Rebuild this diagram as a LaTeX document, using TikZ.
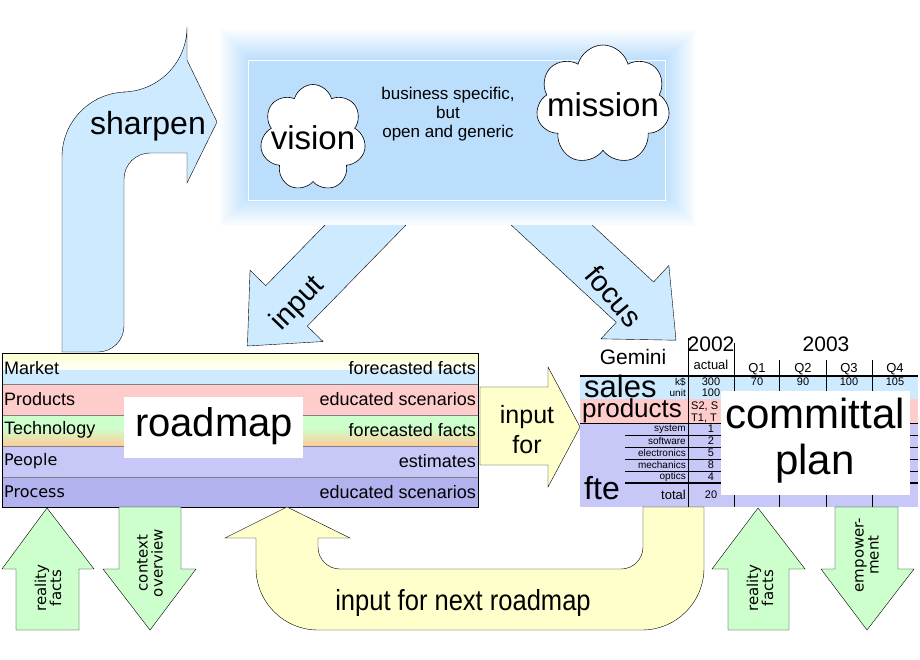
\documentclass[tikz,border=0pt]{standalone}
\usepackage{fontspec}
\setmainfont{Liberation Sans}
\newfontfamily\dejavu{DejaVu Sans}
\usetikzlibrary{shapes.symbols,calc}

\definecolor{skyblue}{RGB}{205,234,255}
\definecolor{boxblue}{RGB}{187,222,252}
\definecolor{mintgreen}{RGB}{204,255,204}
\definecolor{paleyellow}{RGB}{255,255,204}
\definecolor{rosepink}{RGB}{255,204,204}
\definecolor{lavender}{RGB}{200,200,248}
\definecolor{deeplav}{RGB}{178,178,238}
\definecolor{peach}{RGB}{255,204,153}

\newcommand{\fs}[1]{\fontsize{#1}{#1}\selectfont}
% straight block arrow: start, angle, length, shaft width, head width, head length, fill
\newcommand{\blockarrow}[7]{%
  \begin{scope}[shift={#1},rotate=#2]
    \draw[fill=#7,line width=0.4pt]
      (0,-#4/2) -- ({#3-#6},-#4/2) -- ({#3-#6},-#5/2) -- (#3,0)
      -- ({#3-#6},#5/2) -- ({#3-#6},#4/2) -- (0,#4/2) -- cycle;
  \end{scope}}

\tikzset{
  cloudy/.style={cloud,cloud puffs=7,draw,fill=white,line width=0.6pt,aspect=1},
  rowtxt/.style={font=\fs{18},inner sep=2pt},
  cell/.style={font=\fs{11},inner sep=0pt},
  sub/.style={font=\fs{10},inner sep=0pt,anchor=east},
  vlabel/.style={font=\dejavu\fs{15},rotate=90,align=center},
}

\begin{document}
\begin{tikzpicture}[x=1pt,y=-1pt]
\useasboundingbox (0,0) rectangle (920,660);

% input and focus arrows (their tails hide under the box)
\blockarrow{(385,205)}{225.7}{197}{58}{102}{56}{skyblue}
\node[font=\fs{29},rotate=46] (input) at (298,304) {input};
\blockarrow{(530,205)}{-42.8}{199}{55}{100}{56}{skyblue}
\node[font=\fs{29},rotate=-50] (focus) at (614,296) {focus};

% mission box with glow
\fill[white] (220,30) rectangle (695,225);
\foreach \g in {0,2,...,28}{
  \pgfmathsetmacro{\o}{10+3*\g}
  \fill[boxblue!\o] (220+\g,30+\g) rectangle (695-\g,225-\g);
}
\draw[white,fill=boxblue] (248,60) rectangle (665,200);
\node[cloudy,minimum width=106,minimum height=107] (vision) at (313,138) {};
\node[font=\fs{33}] at (vision) {vision};
\node[cloudy,minimum width=134,minimum height=120] (mission) at (603,105) {};
\node[font=\fs{33}] at (mission) {mission};
\node[font=\fs{17},align=center] (generic) at (448,114)
  {business specific,\\[2pt] but\\[2pt] open and generic};

% sharpen arrow
\draw[fill=skyblue,line width=0.4pt] (62,352) [rounded corners=65] -- (62,92) -- (187,92)
  [sharp corners] -- (187,60) -- (217,122) -- (187,183) -- (187,153)
  [rounded corners=26] -- (124,153) -- (124,352) [sharp corners] -- cycle;
\node[font=\fs{32}] (sharpen) at (148,126) {sharpen};

% roadmap
\shade[top color=paleyellow,bottom color=white] (2,353) rectangle (478,370);
\fill[skyblue] (2,370) rectangle (478,384);
\fill[rosepink] (2,384) rectangle (478,415);
\fill[mintgreen] (2,415) rectangle (478,436);
\shade[top color=mintgreen,bottom color=peach] (2,428) rectangle (478,446);
\fill[lavender] (2,446) rectangle (478,477);
\fill[deeplav] (2,477) rectangle (478,507);
\foreach \y in {384,415,446,477}{ \draw[gray,line width=0.8pt] (2,\y) -- (478,\y); }
\draw[line width=0.8pt] (2,353) rectangle (478,507);
\foreach \y/\l/\r in {368/Market/forecasted facts,399/Products/educated scenarios,430/Technology/forecasted facts}{
  \node[rowtxt,anchor=west] at (2,\y) {\l};
  \node[rowtxt,anchor=east] at (478,\y) {\r};
}
\foreach \y/\l/\r in {461/People/estimates,492/Process/educated scenarios}{
  \node[rowtxt,anchor=west,font=\dejavu\fs{16}] at (2,\y) {\l};
  \node[rowtxt,anchor=east] at (478,\y) {\r};
}
\fill[white] (124,397) rectangle (303,458);
\node[font=\fs{40}] (roadmap) at (214,426) {roadmap};

% input for arrow
\draw[fill=paleyellow,line width=0.4pt] (480,387) -- (548,387) -- (548,367) -- (580,427)
  -- (548,487) -- (548,465) -- (480,465) -- cycle;
\node[font=\fs{25},align=center] (inputfor) at (527,430) {input\\[5pt] for};

% committal plan table
\fill[skyblue] (580,376) rectangle (918,399);
\fill[rosepink] (580,399) rectangle (918,423);
\fill[lavender] (580,423) rectangle (918,507);
\node[font=\fs{21}] (gemini) at (633,357) {Gemini};
\node[font=\fs{21}] at (711,344) {2002};
\node[font=\fs{13}] at (711,365) {actual};
\node[font=\fs{21}] at (826,344) {2003};
\foreach \x/\q in {757/Q1,803/Q2,849/Q3,895/Q4}{ \node[font=\fs{13}] at (\x,369) {\q}; }
\draw[line width=2pt] (580,376) -- (918,376);
\draw[line width=0.8pt] (688,338) -- (688,507);
\draw[line width=0.8pt] (734,343) -- (734,507);
\foreach \x in {779,826,872}{ \draw[line width=0.8pt] (\x,360) -- (\x,507); }
\foreach \y in {435,447,459,471}{ \draw[line width=0.6pt] (625,\y) -- (918,\y); }
\draw[line width=0.6pt] (580,423) -- (918,423);
\draw[line width=2pt] (625,483) -- (918,483);
\node[font=\fs{31},anchor=west,inner sep=0pt] (sales) at (584,386) {sales};
\node[font=\fs{26},anchor=west,inner sep=0pt] (products) at (582,411) {products};
\node[font=\fs{32},anchor=west,inner sep=0pt] (fte) at (584,488) {fte};
\node[sub] at (686,382) {k\$};
\node[sub] at (686,393) {unit};
\foreach \y/\s/\v in {429/system/1,441/software/2,453/electronics/5,465/mechanics/8,477/optics/4}{
  \node[sub] at (686,\y) {\s};
  \node[cell] at (711,\y) {\v};
}
\node[font=\fs{13},anchor=east,inner sep=0pt] at (686,495) {total};
\node[cell] at (711,495) {20};
\node[cell] at (711,382) {300};
\node[cell] at (711,393) {100};
\node[cell,anchor=west] at (691,406) {S2, S};
\node[cell,anchor=west] at (691,418) {T1, T};
\foreach \x/\v in {757/70,803/90,849/100,895/105}{ \node[cell] at (\x,382) {\v}; }
\fill[white] (721,391) rectangle (910,495);
\node[font=\fs{42},align=center] (committal) at (815,441) {committal\\[4pt] plan};

% bottom arrows
\tikzset{updown/.style={fill=mintgreen,line width=0.4pt}}
\draw[updown] (16,630) -- (16,569) -- (2,569) -- (47,508) -- (94,569) -- (79,569) -- (79,630) -- cycle;
\node[vlabel] (reality1) at (48,588) {reality\\facts};
\draw[updown] (119,507) -- (119,569) -- (103,569) -- (150,630) -- (196,569) -- (181,569) -- (181,507) -- cycle;
\node[vlabel] (context) at (150,563) {context\\overview};
\draw[updown] (728,630) -- (728,569) -- (712,569) -- (758,508) -- (805,569) -- (789,569) -- (789,630) -- cycle;
\node[vlabel] (reality2) at (760,588) {reality\\facts};
\draw[updown] (835,507) -- (835,569) -- (821,569) -- (867,630) -- (914,569) -- (898,569) -- (898,507) -- cycle;
\node[vlabel] (empower) at (867,555) {empower-\\ment};

% input for next roadmap
\draw[fill=paleyellow,line width=0.4pt] (225,538) -- (287,507) -- (350,538) -- (318,538)
  [rounded corners=22] -- (318,569) -- (643,569) [sharp corners] -- (643,507) -- (704,507)
  [rounded corners=62] -- (704,630) -- (256,630) [sharp corners] -- (256,538) -- cycle;
\node[font=\fs{29},xscale=0.88] (nextmap) at (463,603) {input for next roadmap};
\end{tikzpicture}
\end{document}
